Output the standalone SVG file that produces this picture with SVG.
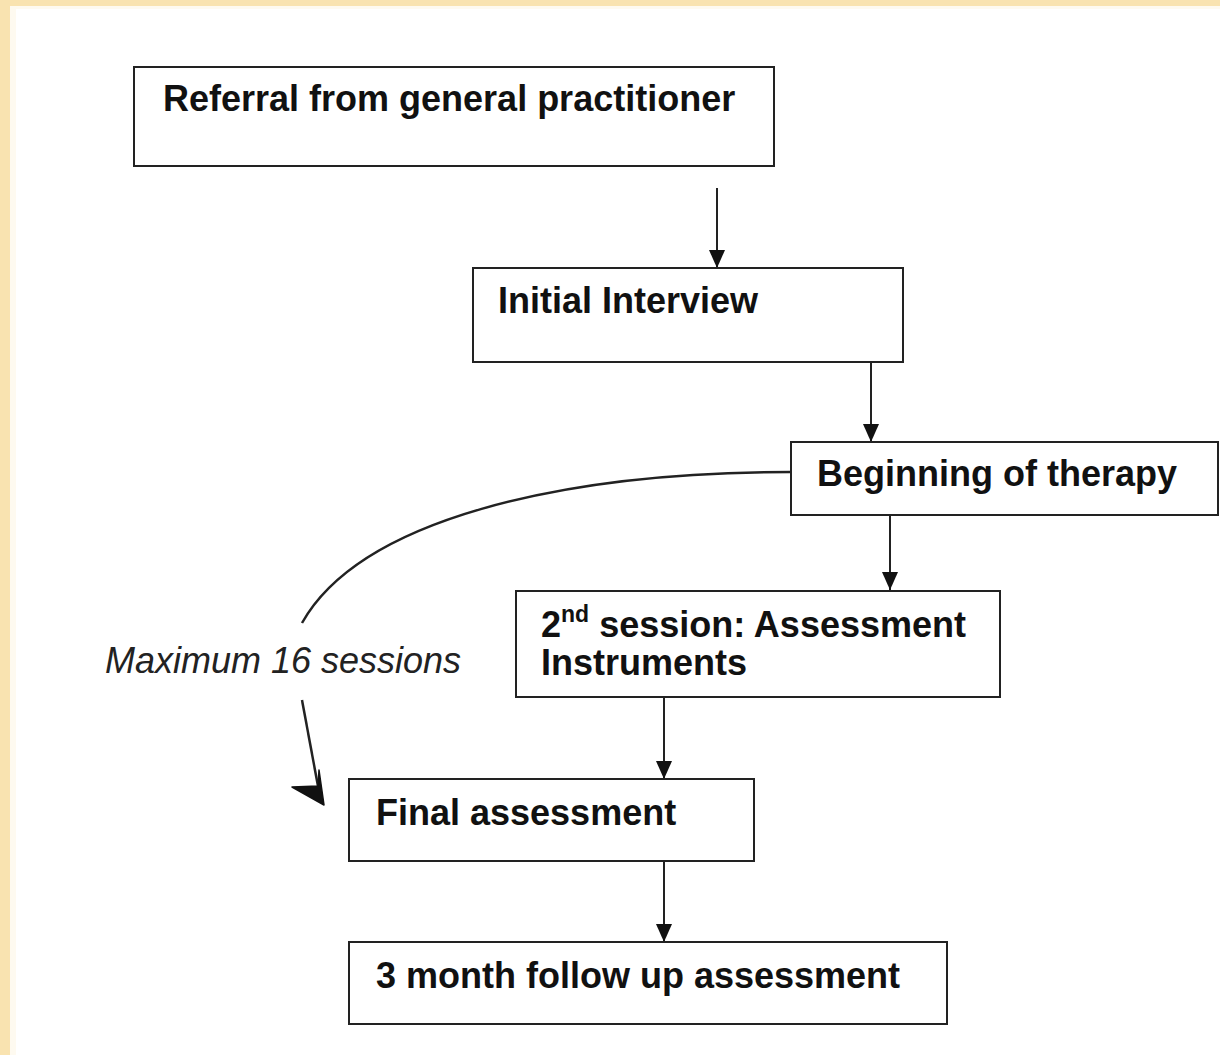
<svg xmlns="http://www.w3.org/2000/svg" width="1220" height="1055" viewBox="0 0 1220 1055">
  <style>
    .box { fill: #ffffff; stroke: #222222; stroke-width: 2; }
    .lbl { font-family: "Liberation Sans", Arial, sans-serif; font-weight: bold; font-size: 36px; fill: #111111; }
    .note { font-family: "Liberation Sans", Arial, sans-serif; font-style: italic; font-size: 36px; fill: #222222; }
    .conn { fill: none; stroke: #222222; stroke-width: 2; }
    .curve { fill: none; stroke: #222222; stroke-width: 2.5; }
  </style>
  <defs>
    <marker id="arrow" markerUnits="userSpaceOnUse" viewBox="0 0 18 16" markerWidth="18" markerHeight="16" refX="18" refY="8" orient="auto">
      <path d="M0,0 L18,8 L0,16 Z" fill="#111111"/>
    </marker>
  </defs>
  <rect x="0" y="0" width="1220" height="1055" fill="#ffffff"/>
  <rect x="0" y="0" width="1220" height="6" fill="#f9e3b0"/>
  <rect x="0" y="0" width="10" height="1055" fill="#f9e3b0"/>
  <rect x="10" y="6" width="1210" height="3" fill="#fefaf0"/>
  <rect x="10" y="6" width="6" height="1049" fill="#fefaf0"/>

  <g id="connectors">
    <line class="conn" x1="717" y1="188" x2="717" y2="268" marker-end="url(#arrow)"/>
    <line class="conn" x1="871" y1="363" x2="871" y2="442" marker-end="url(#arrow)"/>
    <line class="conn" x1="890" y1="515" x2="890" y2="590" marker-end="url(#arrow)"/>
    <line class="conn" x1="664" y1="697" x2="664" y2="779" marker-end="url(#arrow)"/>
    <line class="conn" x1="664" y1="861" x2="664" y2="942" marker-end="url(#arrow)"/>
    <path class="curve" d="M791,472 C560,472 360,520 302,623"/>
    <line class="curve" x1="302" y1="700" x2="320" y2="797" stroke-width="3"/>
    <path d="M292,787 L324,805 L319,770 L318,786 Z" fill="#111111" stroke="#111111" stroke-width="1.5" stroke-linejoin="round"/>
  </g>

  <g id="label-max">
    <text class="note" x="105" y="673">Maximum 16 sessions</text>
  </g>

  <g id="node-referral">
    <rect class="box" x="134" y="67" width="640" height="99"/>
    <text class="lbl" x="163" y="111">Referral from general practitioner</text>
  </g>
  <g id="node-initial">
    <rect class="box" x="473" y="268" width="430" height="94"/>
    <text class="lbl" x="498" y="313">Initial Interview</text>
  </g>
  <g id="node-beginning">
    <rect class="box" x="791" y="442" width="427" height="73"/>
    <text class="lbl" x="817" y="486">Beginning of therapy</text>
  </g>
  <g id="node-second">
    <rect class="box" x="516" y="591" width="484" height="106"/>
    <text class="lbl" x="541" y="637">2<tspan font-size="23px" dy="-15">nd</tspan><tspan dy="15"> session: Assessment</tspan></text>
    <text class="lbl" x="541" y="675">Instruments</text>
  </g>
  <g id="node-final">
    <rect class="box" x="349" y="779" width="405" height="82"/>
    <text class="lbl" x="376" y="825">Final assessment</text>
  </g>
  <g id="node-followup">
    <rect class="box" x="349" y="942" width="598" height="82"/>
    <text class="lbl" x="376" y="988">3 month follow up assessment</text>
  </g>
</svg>
